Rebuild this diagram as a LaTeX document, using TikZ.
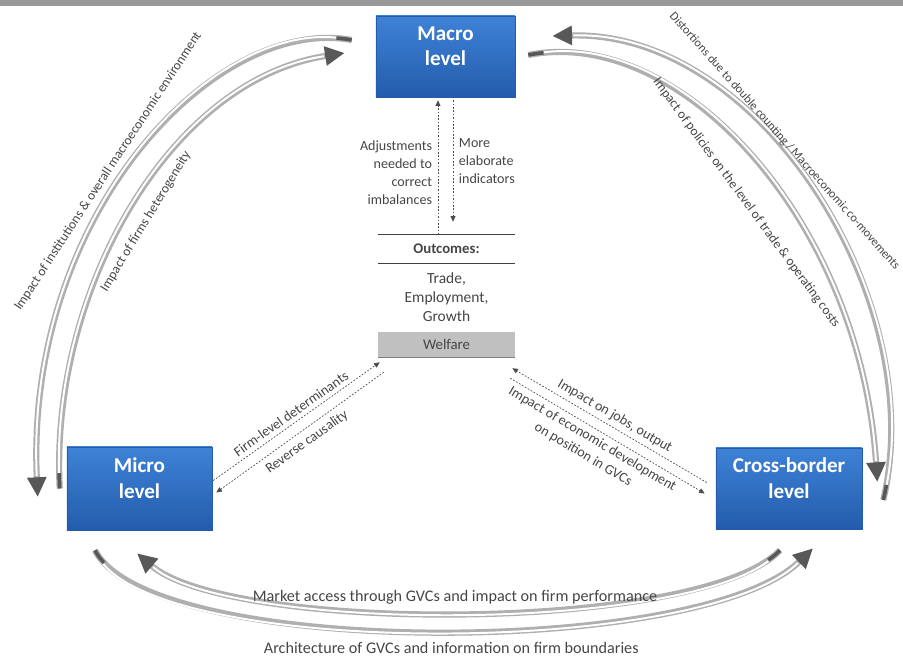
\documentclass[tikz,border=0pt]{standalone}
\usepackage{fontspec}
\setmainfont{Carlito}
\usepackage{tikz}
\usetikzlibrary{arrows.meta,calc}
\definecolor{boxtop}{RGB}{62,130,214}
\definecolor{boxbot}{RGB}{36,92,172}
\definecolor{txtgray}{RGB}{70,70,70}
\definecolor{tubegray}{RGB}{175,175,175}
\definecolor{tipgray}{RGB}{88,88,88}
\definecolor{welfgray}{RGB}{192,192,192}

\begin{document}
\begin{tikzpicture}[x=0.025cm,y=-0.025cm,% one unit = one pixel of the layout, y grows downwards
			every node/.style={
				align=center,		% so that "\\" breaks the line
				text=txtgray
			},
			level/.style={rectangle,top color=boxtop,bottom color=boxbot,draw=boxbot,
				text=white,font=\fontsize{15}{18}\selectfont\bfseries,text depth=15pt},
			note/.style={font=\fontsize{10}{12.8}\selectfont,inner sep=1pt},
			arclab/.style={font=\fontsize{9.5}{11}\selectfont,inner sep=1pt},
			baselab/.style={font=\fontsize{11.5}{13}\selectfont,inner sep=1pt},
			tube/.style={draw=tubegray,line width=4.4pt,-{Triangle[length=14pt,width=13pt,color=tipgray]},
				postaction={draw=white,line width=1.4pt,-,shorten >=15pt,shorten <=4pt},
				postaction={draw=tipgray,line width=2.6pt,-,dash pattern=on 11pt off 1000pt}},
			dotarr/.style={draw=black!70,line width=0.5pt,dash pattern=on 1.2pt off 1.2pt,
				-{Triangle[length=4pt,width=3.5pt]}}
		]
		\fill[white] (0,0) rectangle (903,662);
		\useasboundingbox (0,0) rectangle (903,662);
		\fill[black!40] (0,0) rectangle (903,6.5);
		% the three levels
		\node[level,minimum width=3.475cm,minimum height=2.025cm](macro) at (445.5,56.5){Macro\\level};
		\node[level,minimum width=3.625cm,minimum height=2.075cm](micro) at (139.5,488.5){Micro\\level};
		\node[level,minimum width=3.65cm,minimum height=2.025cm](xborder) at (789,488.5){Cross-border\\level};
		% outcomes in the middle
		\node[font=\fontsize{10.5}{12}\selectfont\bfseries,minimum width=3.425cm,minimum height=0.7cm,inner sep=0pt](outc) at (446.5,249){Outcomes:};
		\draw[black!75,line width=0.6pt] (outc.north west) -- (outc.north east) (outc.south west) -- (outc.south east);
		\node[font=\fontsize{11}{13.5}\selectfont](trade) at (446.5,297){Trade,\\Employment,\\Growth};
		\node[fill=welfgray,minimum width=3.425cm,minimum height=0.625cm,inner sep=0pt,font=\fontsize{10.5}{12}\selectfont](welf) at (446.5,344.5){Welfare};
		\draw[black!50,line width=1pt] (welf.south west) -- (welf.south east);
		% dotted links
		\draw[dotarr] ($(outc.north)+(-8.5,0)$) -- node[note,pos=0.46,left=3pt,align=right]{Adjustments\\needed to\\correct\\imbalances} ($(macro.south)+(-7.5,3)$);
		\draw[dotarr] ($(macro.south)+(7.5,3)$) -- node[note,pos=0.5,right=3pt,align=left]{More\\elaborate\\indicators} ($(outc.north)+(6.5,-13)$);
		\draw[dotarr] ($(micro.east)+(1,-8)$) -- node[note,sloped,above=2pt]{Firm-level determinants} ($(welf.south west)+(2,5)$);
		\draw[dotarr] ($(welf.south west)+(6,15)$) -- node[note,sloped,below=3pt]{Reverse causality} ($(micro.east)+(4,4)$);
		\draw[dotarr] ($(xborder.west)+(-9,-6)$) -- node[note,sloped,above=2pt]{Impact on jobs, output} ($(welf.south east)+(-3,11)$);
		\draw[dotarr] ($(welf.south east)+(-5,21)$) -- node[note,pos=0.45,sloped,below=2pt]{Impact of economic development\\on position in GVCs} ($(xborder.west)+(-11,5)$);
		% big curved arrows
		\draw[tube] ([shift={(-24,-16.5)}]macro.west) .. controls +(-137,-25) and +(-13,-282) .. ([shift={(-29,8.5)}]micro.west)
			node[arclab,pos=0.55,sloped,above=3pt]{Impact of institutions \& overall macroeconomic environment};
		\draw[tube] ([shift={(-7,0)}]micro.west) .. controls +(-10,-198) and +(-175,27) .. ([shift={(-31,-3.5)}]macro.west)
			node[arclab,pos=0.49,sloped,below=6pt]{Impact of firms heterogeneity};
		\draw[tube] ([shift={(21,11.5)}]xborder.east) .. controls +(47,-200) and +(208,-6) .. ([shift={(37,-20.5)}]macro.east)
			node[arclab,font=\fontsize{8.7}{10}\selectfont,pos=0.585,sloped,above=-1.5pt]{Distortions due to double counting / Macroeconomic co-movements};
		\draw[tube] ([shift={(13,-1.5)}]macro.east) .. controls +(152,-30) and +(-17,-262) .. ([shift={(15,-6.5)}]xborder.east)
			node[arclab,pos=0.55,sloped,below=16pt]{Impact of policies on the level of trade \& operating costs};
		\draw[tube] ([shift={(-9,21)}]xborder.south) .. controls +(-80,83) and +(93,80) .. ([shift={(-2.5,23)}]micro.south)
			node[baselab,pos=0.51,above=3pt]{Market access through GVCs and impact on firm performance};
		\draw[tube] ([shift={(-44.5,20)}]micro.south) .. controls +(55,108) and +(-113,110) .. ([shift={(24,19)}]xborder.south)
			node[baselab,pos=0.52,below=5pt]{Architecture of GVCs and information on firm boundaries};
	\end{tikzpicture}
\end{document}
